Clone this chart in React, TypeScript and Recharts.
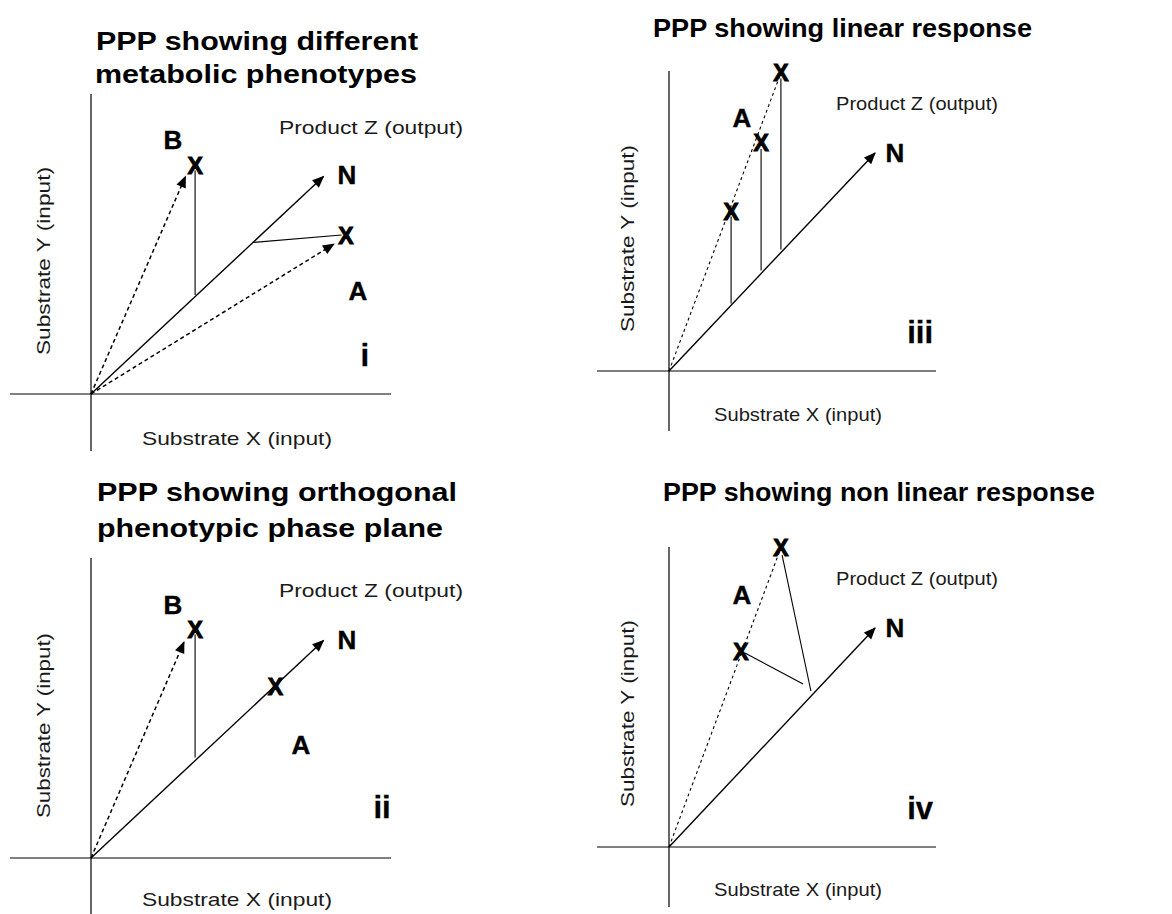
import React from 'react';
import { ComposedChart, Line, Scatter, XAxis, YAxis, ReferenceLine } from 'recharts';

type Pt = { x: number; y: number };
type Tag = { x: number; y: number; text: string };

// values are in picture units (1 unit ~ 30px), origin where substrate X and Y cross
const PX = 30;
const INK = '#000';
const FONT = '"Liberation Sans", Arial, Helvetica, sans-serif';

// --- panel i: different metabolic phenotypes
const nVectorI: Pt[] = [{ x: 0, y: 0 }, { x: 7.75, y: 7.25 }];
const bVectorI: Pt[] = [{ x: 0, y: 0 }, { x: 3.15, y: 7.25 }];
const aVectorI: Pt[] = [{ x: 0, y: 0 }, { x: 8.1, y: 5.0 }];
const bDropI: Pt[] = [{ x: 3.47, y: 3.3 }, { x: 3.47, y: 7.45 }];
const aDropI: Pt[] = [{ x: 5.4, y: 5.05 }, { x: 8.35, y: 5.3 }];
const marksI: Pt[] = [{ x: 3.47, y: 7.6 }, { x: 8.5, y: 5.27 }];
const lettersI: Tag[] = [
  { x: 2.73, y: 8.47, text: 'B' },
  { x: 8.53, y: 7.3, text: 'N' },
  { x: 8.9, y: 3.43, text: 'A' },
];
const numeralI: Tag = { x: 9.13, y: 1.3, text: 'i' };

// --- panel ii: orthogonal phenotypic phase plane
const nVectorII: Pt[] = [{ x: 0, y: 0 }, { x: 7.75, y: 7.25 }];
const bVectorII: Pt[] = [{ x: 0, y: 0 }, { x: 3.1, y: 7.2 }];
const bDropII: Pt[] = [{ x: 3.47, y: 3.35 }, { x: 3.47, y: 7.45 }];
const marksII: Pt[] = [{ x: 3.47, y: 7.6 }, { x: 6.15, y: 5.7 }];
const lettersII: Tag[] = [
  { x: 2.73, y: 8.43, text: 'B' },
  { x: 8.53, y: 7.27, text: 'N' },
  { x: 7.0, y: 3.77, text: 'A' },
];
const numeralII: Tag = { x: 9.7, y: 1.7, text: 'ii' };

// --- panel iii: linear response
const nVectorIII: Pt[] = [{ x: 0, y: 0 }, { x: 6.87, y: 7.27 }];
const aLineIII: Pt[] = [{ x: 0, y: 0 }, { x: 3.73, y: 9.93 }];
const drop1III: Pt[] = [{ x: 2.07, y: 2.25 }, { x: 2.07, y: 5.15 }];
const drop2III: Pt[] = [{ x: 3.07, y: 3.35 }, { x: 3.07, y: 7.4 }];
const drop3III: Pt[] = [{ x: 3.73, y: 4.05 }, { x: 3.73, y: 9.75 }];
const marksIII: Pt[] = [{ x: 2.07, y: 5.3 }, { x: 3.07, y: 7.6 }, { x: 3.73, y: 9.93 }];
const lettersIII: Tag[] = [
  { x: 2.43, y: 8.43, text: 'A' },
  { x: 7.53, y: 7.27, text: 'N' },
];
const numeralIII: Tag = { x: 8.37, y: 1.3, text: 'iii' };

// --- panel iv: non linear response
const nVectorIV: Pt[] = [{ x: 0, y: 0 }, { x: 6.87, y: 7.3 }];
const aLineIV: Pt[] = [{ x: 0, y: 0 }, { x: 3.73, y: 9.97 }];
const dropTopIV: Pt[] = [{ x: 3.77, y: 9.73 }, { x: 4.73, y: 5.2 }];
const dropLowIV: Pt[] = [{ x: 2.53, y: 6.47 }, { x: 4.47, y: 5.43 }];
const marksIV: Pt[] = [{ x: 2.4, y: 6.5 }, { x: 3.73, y: 9.97 }];
const lettersIV: Tag[] = [
  { x: 2.43, y: 8.4, text: 'A' },
  { x: 7.53, y: 7.3, text: 'N' },
];
const numeralIV: Tag = { x: 8.37, y: 1.3, text: 'iv' };

type Segment = { pts: Pt[]; dash?: 'coarse' | 'fine'; arrow?: boolean; width?: number };
type Caption = { text: string; x: number; y: number; len: number; size: number; bold?: boolean; vertical?: boolean };
type PanelSpec = {
  box: { left: number; top: number; width: number; height: number };
  origin: [number, number];
  xDomain: [number, number];
  yDomain: [number, number];
  segments: Segment[];
  marks: Pt[];
  letters: Tag[];
  numeral: Tag;
  captions: Caption[];
};

const axisCaptions = (
  prod: [number, number, number],
  sx: [number, number, number],
  sy: [number, number, number],
): Caption[] => [
  { text: 'Product Z (output)', x: prod[0], y: prod[1], len: prod[2], size: 19 },
  { text: 'Substrate X (input)', x: sx[0], y: sx[1], len: sx[2], size: 19 },
  { text: 'Substrate Y (input)', x: sy[0], y: sy[1], len: sy[2], size: 19, vertical: true },
];

const panels: PanelSpec[] = [
  {
    box: { left: 0, top: 0, width: 586, height: 457 },
    origin: [91, 394],
    xDomain: [-2.7, 10],
    yDomain: [-1.9, 10],
    segments: [
      { pts: nVectorI, arrow: true, width: 1.4 },
      { pts: bVectorI, arrow: true, dash: 'coarse' },
      { pts: aVectorI, arrow: true, dash: 'coarse' },
      { pts: bDropI },
      { pts: aDropI },
    ],
    marks: marksI,
    letters: lettersI,
    numeral: numeralI,
    captions: [
      { text: 'PPP showing different', x: 96, y: 50, len: 322, size: 25, bold: true },
      { text: 'metabolic phenotypes', x: 95, y: 83, len: 322, size: 25, bold: true },
      ...axisCaptions([279, 134, 184], [142, 445, 190], [50, 355, 188]),
    ],
  },
  {
    box: { left: 0, top: 460, width: 586, height: 460 },
    origin: [91, 858],
    xDomain: [-2.7, 10],
    yDomain: [-1.9, 10],
    segments: [
      { pts: nVectorII, arrow: true, width: 1.4 },
      { pts: bVectorII, arrow: true, dash: 'coarse' },
      { pts: bDropII },
    ],
    marks: marksII,
    letters: lettersII,
    numeral: numeralII,
    captions: [
      { text: 'PPP showing orthogonal', x: 97, y: 501, len: 360, size: 25, bold: true },
      { text: 'phenotypic phase plane', x: 97, y: 537, len: 346, size: 25, bold: true },
      ...axisCaptions([279, 597, 184], [142, 906, 190], [50, 818, 185]),
    ],
  },
  {
    box: { left: 586, top: 0, width: 586, height: 457 },
    origin: [669, 371],
    xDomain: [-2.4, 8.9],
    yDomain: [-2, 10],
    segments: [
      { pts: nVectorIII, arrow: true, width: 1.4 },
      { pts: aLineIII, dash: 'fine' },
      { pts: drop1III },
      { pts: drop2III },
      { pts: drop3III },
    ],
    marks: marksIII,
    letters: lettersIII,
    numeral: numeralIII,
    captions: [
      { text: 'PPP showing linear response', x: 653, y: 37, len: 379, size: 25, bold: true },
      ...axisCaptions([836, 110, 162], [714, 421, 168], [634, 332, 187]),
    ],
  },
  {
    box: { left: 586, top: 460, width: 586, height: 460 },
    origin: [669, 847],
    xDomain: [-2.4, 8.9],
    yDomain: [-2, 10],
    segments: [
      { pts: nVectorIV, arrow: true, width: 1.4 },
      { pts: aLineIV, dash: 'fine' },
      { pts: dropTopIV },
      { pts: dropLowIV },
    ],
    marks: marksIV,
    letters: lettersIV,
    numeral: numeralIV,
    captions: [
      { text: 'PPP showing non linear response', x: 663, y: 501, len: 432, size: 25, bold: true },
      ...axisCaptions([836, 585, 162], [714, 896, 168], [634, 807, 187]),
    ],
  },
];

// arrowhead at the last point; x and y share one px-per-unit so the data angle is the screen angle
const arrowDot = (pts: Pt[]) => (props: any) => {
  const { cx, cy, index } = props;
  if (index !== pts.length - 1 || cx == null) return <g key={`d-${index}`} />;
  const a = pts[pts.length - 2];
  const b = pts[pts.length - 1];
  const deg = (Math.atan2(-(b.y - a.y), b.x - a.x) * 180) / Math.PI;
  return (
    <path
      key={`d-${index}`}
      d="M1,0 L-11,-5 L-11,5 Z"
      fill={INK}
      transform={`translate(${cx},${cy}) rotate(${deg})`}
    />
  );
};

const renderTag = (size: number, heavy: number, label?: string) => (props: any) => (
  <text
    x={props.cx}
    y={props.cy}
    textAnchor="middle"
    dominantBaseline="central"
    fontFamily={FONT}
    fontWeight="bold"
    fontSize={size}
    fill={INK}
    stroke={INK}
    strokeWidth={heavy}
  >
    {label ?? props.payload?.text}
  </text>
);

function Panel({ spec }: { spec: PanelSpec }) {
  const { box, origin, xDomain, yDomain } = spec;
  const left = origin[0] - box.left + xDomain[0] * PX;
  const top = origin[1] - box.top - yDomain[1] * PX;
  const plotW = (xDomain[1] - xDomain[0]) * PX;
  const plotH = (yDomain[1] - yDomain[0]) * PX;
  const margin = { left, top, right: box.width - left - plotW, bottom: box.height - top - plotH };

  return (
    <div style={{ position: 'absolute', left: box.left, top: box.top }}>
      <ComposedChart width={box.width} height={box.height} margin={margin}>
        <XAxis type="number" dataKey="x" domain={xDomain} hide />
        <YAxis type="number" dataKey="y" domain={yDomain} hide />
        <ReferenceLine x={0} stroke={INK} strokeWidth={1.2} />
        <ReferenceLine y={0} stroke={INK} strokeWidth={1.2} />
        {spec.segments.map((s, i) => (
          <Line
            key={`seg-${i}`}
            data={s.pts}
            dataKey="y"
            type="linear"
            stroke={INK}
            strokeWidth={s.width ?? (s.dash === 'coarse' ? 1.5 : 1.1)}
            strokeDasharray={s.dash === 'coarse' ? '4 3' : s.dash === 'fine' ? '3 3' : undefined}
            dot={s.arrow ? arrowDot(s.pts) : false}
            activeDot={false}
            isAnimationActive={false}
          />
        ))}
        <Scatter data={spec.marks} dataKey="y" shape={renderTag(23, 1, 'X')} isAnimationActive={false} />
        <Scatter data={spec.letters} dataKey="y" shape={renderTag(26, 0.4)} isAnimationActive={false} />
        <Scatter data={[spec.numeral]} dataKey="y" shape={renderTag(31, 0.3)} isAnimationActive={false} />
        {spec.captions.map((c, i) => {
          const x = c.x - box.left;
          const y = c.y - box.top;
          return (
            <text
              key={`cap-${i}`}
              x={x}
              y={y}
              transform={c.vertical ? `rotate(-90 ${x} ${y})` : undefined}
              textAnchor="start"
              textLength={c.len}
              lengthAdjust="spacingAndGlyphs"
              fontFamily={FONT}
              fontWeight={c.bold ? 'bold' : 'normal'}
              fontSize={c.size}
              fill={c.bold ? INK : '#1a1a1a'}
            >
              {c.text}
            </text>
          );
        })}
      </ComposedChart>
    </div>
  );
}

export default function App() {
  return (
    <div
      style={{
        position: 'absolute',
        left: 0,
        top: 0,
        width: 1172,
        height: 914,
        overflow: 'hidden',
        background: '#fff',
      }}
    >
      {panels.map((p, i) => (
        <Panel key={i} spec={p} />
      ))}
    </div>
  );
}
